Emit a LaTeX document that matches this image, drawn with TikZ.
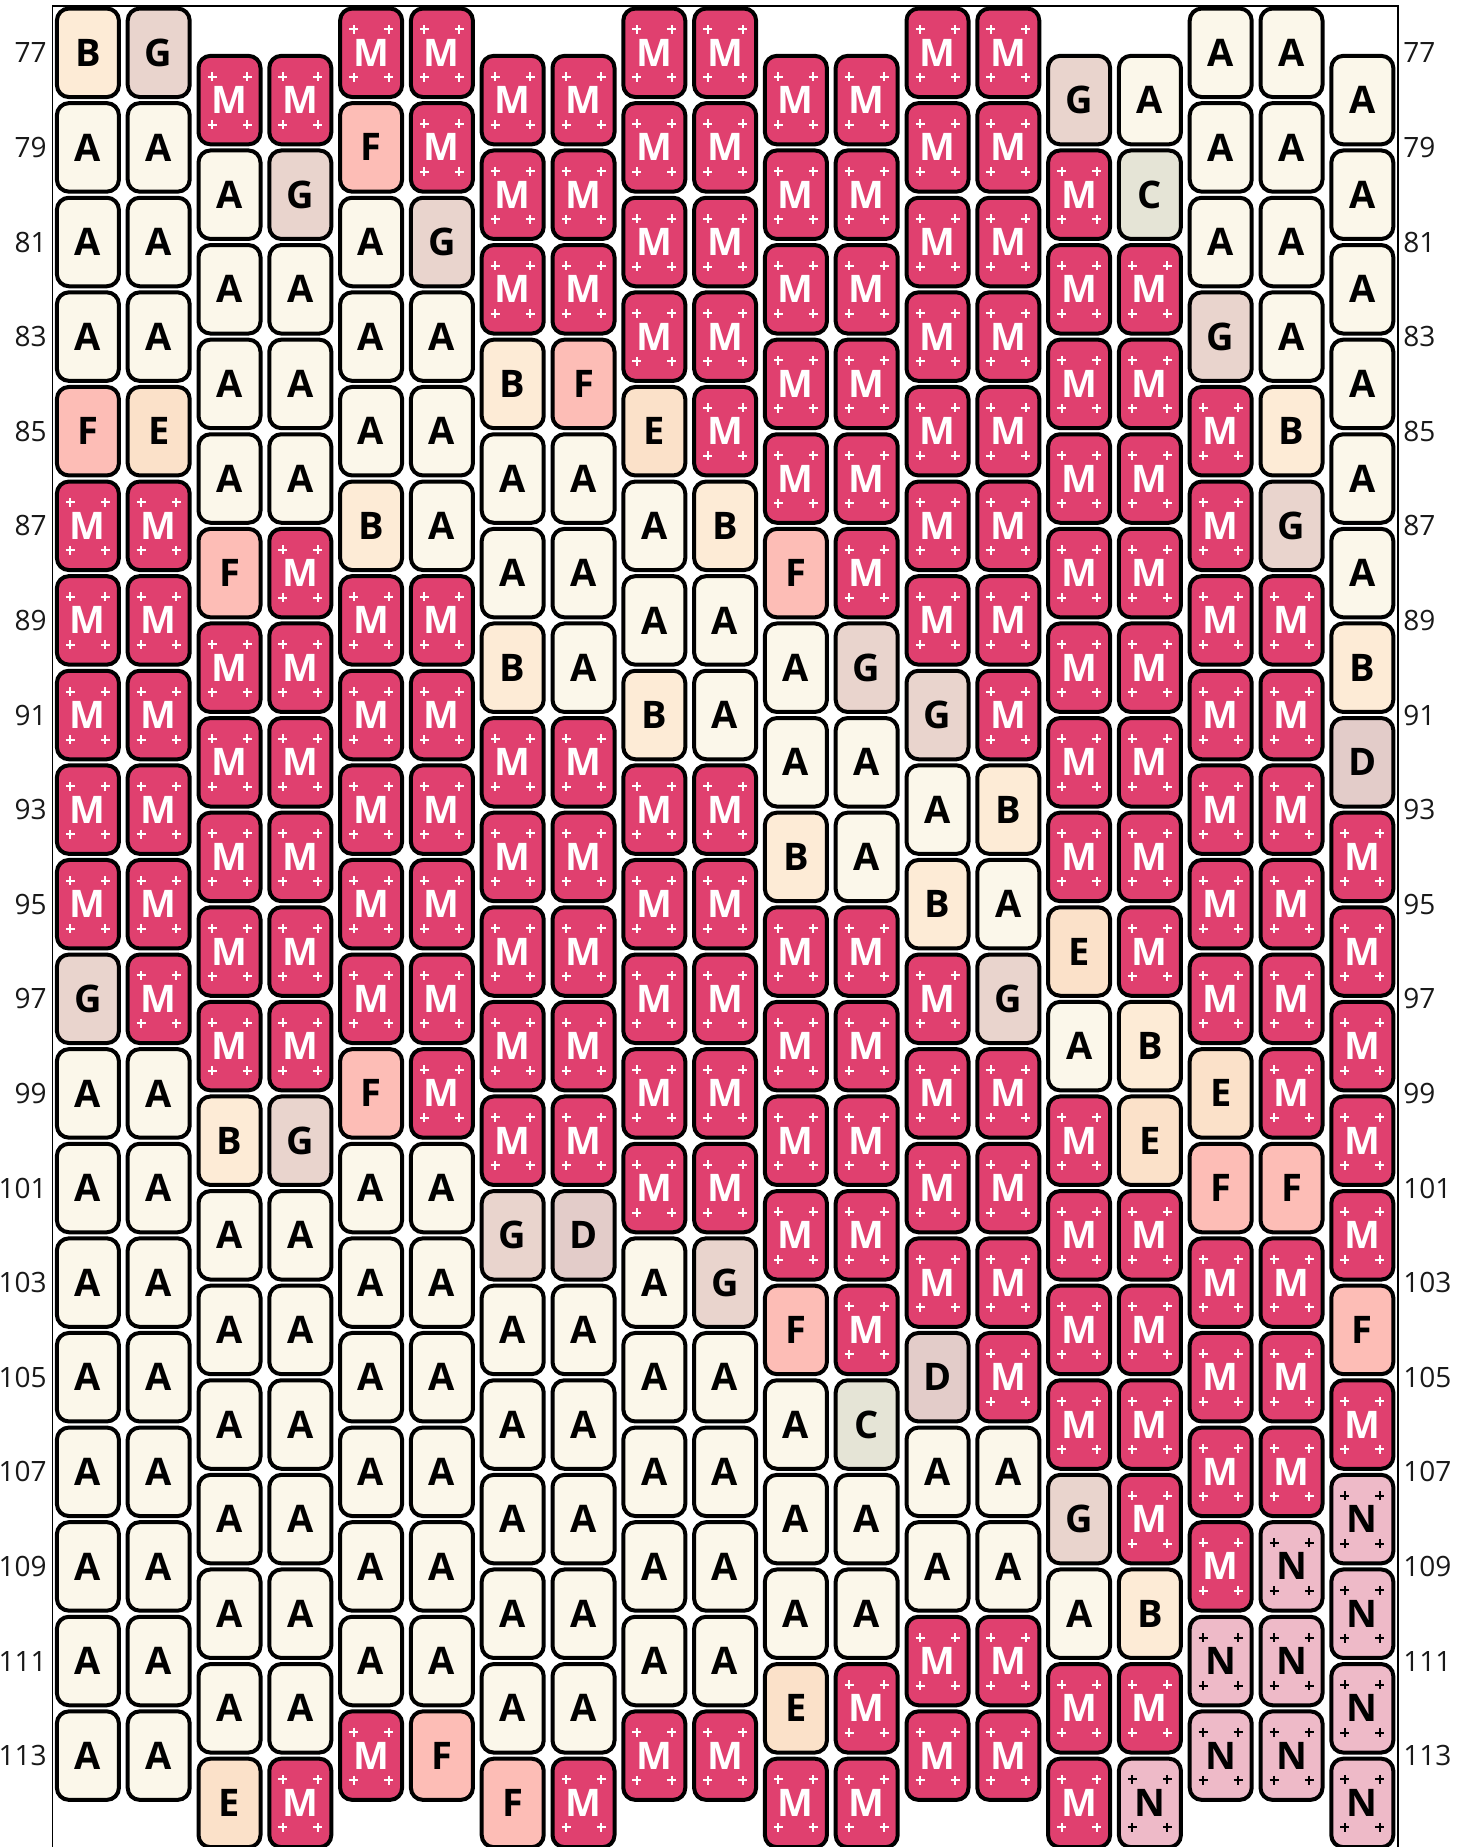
\documentclass[tikz,border=0pt]{standalone}
\usepackage{fontspec}
\setmainfont{Open Sans}
\definecolor{cA}{HTML}{FBF7EA}
\definecolor{cB}{HTML}{FDEBD6}
\definecolor{cG}{HTML}{E9D4CD}
\definecolor{cM}{HTML}{E0406F}
\definecolor{cN}{HTML}{EEBAC8}
\definecolor{cF}{HTML}{FDBDB6}
\definecolor{cE}{HTML}{FBE1C9}
\definecolor{cC}{HTML}{E5E4D6}
\definecolor{cD}{HTML}{E3CCC9}
\tikzset{
  bead/.style={draw=black, line width=2pt, rounded corners=6pt, minimum width=31pt, minimum height=44.25pt,
    inner sep=0pt, outer sep=0pt, font=\fontsize{19}{20}\selectfont\bfseries, text=black},
  pluses/.style={path picture={
    \foreach \dx/\dy in {-17.5/-23.5,17.5/-23.5,-17.5/24.5,17.5/24.5}{
      \draw[#1, line width=1pt] ([shift={(\dx,\dy)}]path picture bounding box.center) +(-4.5,0) -- +(4.5,0) +(0,-4.5) -- +(0,4.5);}}},
  beadA/.style={fill=cA}, beadB/.style={fill=cB}, beadG/.style={fill=cG},
  beadF/.style={fill=cF}, beadE/.style={fill=cE}, beadC/.style={fill=cC}, beadD/.style={fill=cD},
  beadM/.style={fill=cM, text=white, pluses=white},
  beadN/.style={fill=cN, pluses=black},
  lbl/.style={font=\fontsize{14}{16}\selectfont, inner sep=0pt, text=black!90},
  frame/.style={draw=black, line width=0.9pt}
}
\begin{document}
\begin{tikzpicture}[x=0.5pt,y=-0.5pt]
\useasboundingbox (0,0) rectangle (1466,1847);
\clip (0,0) rectangle (1466,1847);
\fill[white] (0,0) rectangle (1466,1847);
\draw[frame] (52.5,1900) -- (52.5,5.7) -- (1397.7,5.7) -- (1397.7,1900);
\foreach \c/\s/\lst in {
 1/77/{B,A,A,A,F,M,M,M,M,M,G,A,A,A,A,A,A,A,A},
 2/77/{G,A,A,A,E,M,M,M,M,M,M,A,A,A,A,A,A,A,A},
 3/78/{M,A,A,A,A,F,M,M,M,M,M,B,A,A,A,A,A,A,E},
 4/78/{M,G,A,A,A,M,M,M,M,M,M,G,A,A,A,A,A,A,M},
 5/77/{M,F,A,A,A,B,M,M,M,M,M,F,A,A,A,A,A,A,M},
 6/77/{M,M,G,A,A,A,M,M,M,M,M,M,A,A,A,A,A,A,F},
 7/78/{M,M,M,B,A,A,B,M,M,M,M,M,G,A,A,A,A,A,F},
 8/78/{M,M,M,F,A,A,A,M,M,M,M,M,D,A,A,A,A,A,M},
 9/77/{M,M,M,M,E,A,A,B,M,M,M,M,M,A,A,A,A,A,M},
 10/77/{M,M,M,M,M,B,A,A,M,M,M,M,M,G,A,A,A,A,M},
 11/78/{M,M,M,M,M,F,A,A,B,M,M,M,M,F,A,A,A,E,M},
 12/78/{M,M,M,M,M,M,G,A,A,M,M,M,M,M,C,A,A,M,M},
 13/77/{M,M,M,M,M,M,M,G,A,B,M,M,M,M,D,A,A,M,M},
 14/77/{M,M,M,M,M,M,M,M,B,A,G,M,M,M,M,A,A,M,M},
 15/78/{G,M,M,M,M,M,M,M,M,E,A,M,M,M,M,G,A,M,M},
 16/78/{A,C,M,M,M,M,M,M,M,M,B,E,M,M,M,M,B,M,N},
 17/77/{A,A,A,G,M,M,M,M,M,M,M,E,F,M,M,M,M,N,N},
 18/77/{A,A,A,A,B,G,M,M,M,M,M,M,F,M,M,M,N,N,N},
 19/78/{A,A,A,A,A,A,B,D,M,M,M,M,M,F,M,N,N,N,N}}{
  \foreach \L [count=\k from 0] in \lst {
    \pgfmathsetmacro{\bx}{17.1+70.8*\c}
    \pgfmathsetmacro{\by}{52.8+47.3*(\s+2*\k-77)}
    \node[bead, bead\L] (b-\c-\k) at (\bx,\by) {\L};
  }
}
\foreach \r in {77,79,...,113}{
  \pgfmathsetmacro{\ly}{52.8+47.3*(\r-77)}
  \node[lbl, anchor=east] (ll\r) at (47,\ly) {\r};
  \node[lbl, anchor=west] (rl\r) at (1403,\ly) {\r};
}
\end{tikzpicture}
\end{document}
